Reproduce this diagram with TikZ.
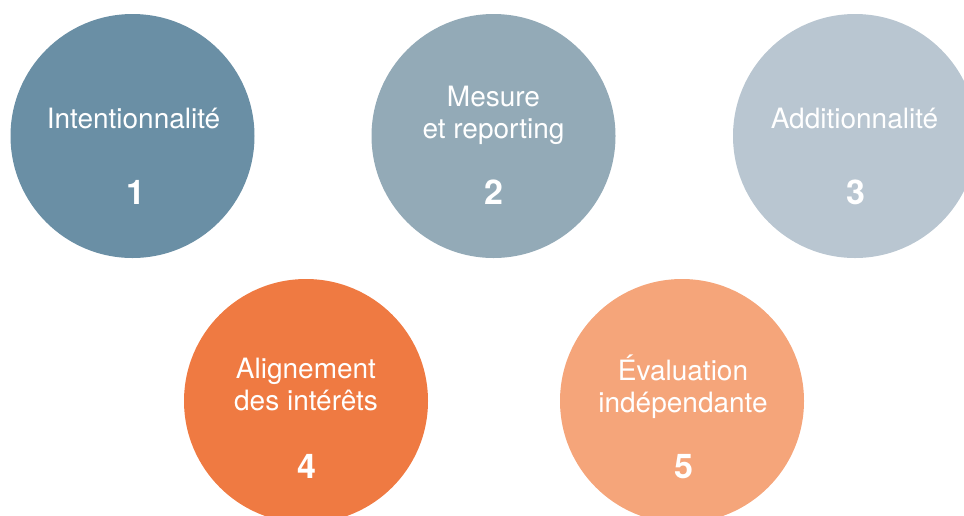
\documentclass[tikz,border=0pt]{standalone}
\usepackage{fontspec}
\setmainfont{TeX Gyre Heros}
\definecolor{cA}{HTML}{6A8FA5}
\definecolor{cB}{HTML}{93AAB7}
\definecolor{cC}{HTML}{B9C6D1}
\definecolor{cD}{HTML}{EF7A42}
\definecolor{cE}{HTML}{F5A57A}
\begin{document}
\begin{tikzpicture}[x=1pt,y=-1pt,
  disc/.style={circle, minimum size=244pt, inner sep=0pt, draw=none},
  lbl/.style={text=white, inner sep=0pt, anchor=base, font=\fontsize{28}{32}\selectfont},
  num/.style={text=white, inner sep=0pt, anchor=base, font=\fontsize{34}{40}\selectfont\bfseries}]
\useasboundingbox (0,0) rectangle (964,515);
\clip (0,0) rectangle (964,515);
\node[disc, fill=cA] (c1) at (132.5,136) {};
\node[disc, fill=cB] (c2) at (493.5,136) {};
\node[disc, fill=cC] (c3) at (855,136) {};
\node[disc, fill=cD] (c4) at (306,401) {};
\node[disc, fill=cE] (c5) at (682,401) {};
\node[lbl] (t1) at (133.5,128) {Intentionnalité};
\node[lbl] (t2) at (493.5,106) {\begin{tabular}[t]{@{}c@{}}Mesure\\et reporting\end{tabular}};
\node[lbl] (t3) at (854.5,128) {Additionnalité};
\node[lbl] (t4) at (306,378) {\begin{tabular}[t]{@{}c@{}}Alignement\\des intérêts\end{tabular}};
\node[lbl] (t5) at (683,380) {\begin{tabular}[t]{@{}c@{}}Évaluation\\indépendante\end{tabular}};
\node[num] (n1) at (136,204) {1};
\node[num] (n2) at (494,204) {2};
\node[num] (n3) at (856,204) {3};
\node[num] (n4) at (307,478) {4};
\node[num] (n5) at (684,478) {5};
\end{tikzpicture}
\end{document}
